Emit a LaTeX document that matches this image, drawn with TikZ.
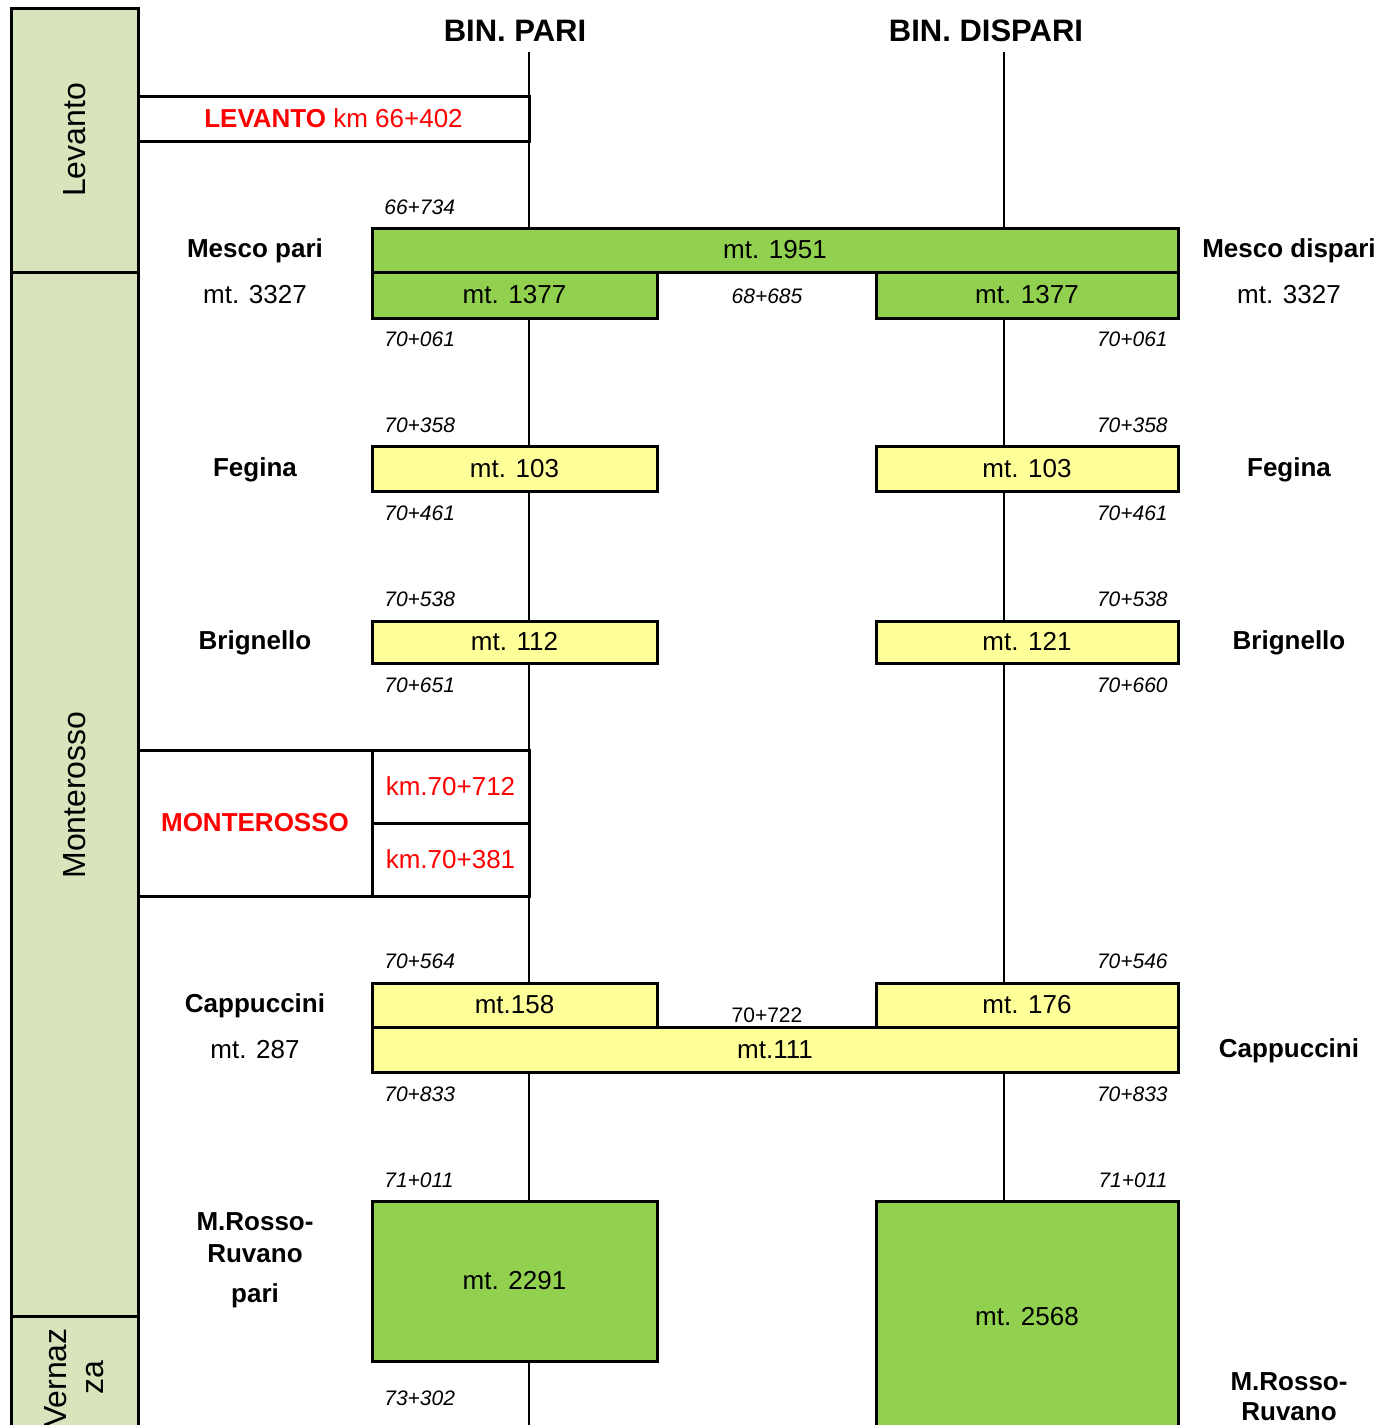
\documentclass[tikz,border=0pt]{standalone}
\usepackage{fontspec}
\setmainfont{Liberation Sans}
\definecolor{bandgreen}{HTML}{D8E4BC}
\definecolor{boxgreen}{HTML}{92D050}
\definecolor{boxyellow}{HTML}{FFFF99}
\begin{document}
\begin{tikzpicture}[x=1pt, y=-1pt, line width=2.7pt,
  band/.style = {draw, fill=bandgreen, line width=3pt, rotate=90, inner sep=0pt, align=center, font=\fontsize{32}{37}\selectfont},
  gbox/.style = {draw, fill=boxgreen, line width=3pt, inner sep=0pt, font=\fontsize{26}{30}\selectfont},
  ybox/.style = {draw, fill=boxyellow, line width=3pt, inner sep=0pt, font=\fontsize{26}{30}\selectfont},
  cell/.style = {draw, line width=3pt, inner sep=0pt, text=red, font=\fontsize{26}{30}\selectfont},
  stn/.style = {font=\bfseries\fontsize{26}{32}\selectfont, align=center},
  lenlbl/.style = {font=\fontsize{26}{30}\selectfont},
  pk/.style = {inner sep=0pt, font=\itshape\fontsize{21}{24}\selectfont},
  hdr/.style = {font=\bfseries\fontsize{31}{36}\selectfont}]
\useasboundingbox (0,0) rectangle (1395,1425);
\clip (0,0) rectangle (1395,1425);
\node[band, minimum width=264, minimum height=127] (lev) at (74.5,140) {Levanto};
\node[band, minimum width=1046, minimum height=127] (mon) at (74.5,795) {Monterosso};
\node[band, minimum width=124, minimum height=127] (ver) at (74.5,1378) {Vernaz\\za};
\node[hdr] (hp) at (515,31) {BIN. PARI};
\node[hdr] (hd) at (986,31) {BIN. DISPARI};
\coordinate (pT) at (529,52);
\coordinate (dT) at (1004,52);
\coordinate (pB) at (529,1425);
\node[cell, minimum width=391, minimum height=45] (levc) at (333.5,118.5) {\textbf{LEVANTO} km 66+402};
\node[gbox, minimum width=806, minimum height=44] (mesco) at (775,250) {mt. 1951};
\node[gbox, minimum width=285, minimum height=46] (mescoP) at (514.5,295) {mt. 1377};
\node[gbox, minimum width=302, minimum height=46] (mescoD) at (1027,295) {mt. 1377};
\node[ybox, minimum width=285, minimum height=45] (feginaP) at (514.5,468.5) {mt. 103};
\node[ybox, minimum width=302, minimum height=45] (feginaD) at (1027,468.5) {mt. 103};
\node[ybox, minimum width=285, minimum height=42] (brignP) at (514.5,642) {mt. 112};
\node[ybox, minimum width=302, minimum height=42] (brignD) at (1027,642) {mt. 121};
\node[cell, minimum width=234, minimum height=146] (monc) at (255,823) {\textbf{MONTEROSSO}};
\node[cell, minimum width=157, minimum height=73] (km1) at (450.5,786.5) {km.70+712};
\node[cell, minimum width=157, minimum height=73] (km2) at (450.5,859.5) {km.70+381};
\node[ybox, minimum width=285, minimum height=44] (cappP) at (514.5,1005) {mt.158};
\node[ybox, minimum width=302, minimum height=44] (cappD) at (1027,1005) {mt. 176};
\node[ybox, minimum width=806, minimum height=45] (cappL) at (775,1049.5) {mt.111};
\node[gbox, minimum width=285, minimum height=160] (rossoP) at (514.5,1281) {mt. 2291};
\node[gbox, minimum width=302, minimum height=232] (rossoD) at (1027,1317) {mt. 2568};
\draw (pT) -- (levc.north -| pT);
\draw (levc.south -| pT) -- (mesco.north -| pT);
\draw (mescoP.south -| pT) -- (feginaP.north -| pT);
\draw (feginaP.south -| pT) -- (brignP.north -| pT);
\draw (brignP.south -| pT) -- (km1.north -| pT);
\draw (km2.south -| pT) -- (cappP.north -| pT);
\draw (cappL.south -| pT) -- (rossoP.north -| pT);
\draw (rossoP.south -| pT) -- (pB);
\draw (dT) -- (mesco.north -| dT);
\draw (mescoD.south -| dT) -- (feginaD.north -| dT);
\draw (feginaD.south -| dT) -- (brignD.north -| dT);
\draw (brignD.south -| dT) -- (cappD.north -| dT);
\draw (cappL.south -| dT) -- (rossoD.north -| dT);
\node[stn] (s1) at (255,251) {Mesco pari};
\node[lenlbl] (l1) at (255,295) {mt. 3327};
\node[stn] (s2) at (1289,251) {Mesco dispari};
\node[lenlbl] (l2) at (1289,295) {mt. 3327};
\node[stn] (s3) at (255,470) {Fegina};
\node[stn] (s4) at (1289,470) {Fegina};
\node[stn] (s5) at (255,643) {Brignello};
\node[stn] (s6) at (1289,643) {Brignello};
\node[stn] (s7) at (255,1006) {Cappuccini};
\node[lenlbl] (l3) at (255,1050) {mt. 287};
\node[stn] (s8) at (1289,1051) {Cappuccini};
\node[stn] (s9) at (255,1260) {M.Rosso-\\Ruvano\\[8pt]pari};
\node[stn, font=\bfseries\fontsize{26}{30}\selectfont] (s10) at (1289,1397) {M.Rosso-\\Ruvano};
\node[pk, anchor=west] (k1) at (383,207) {66+734};
\node[pk] (k2) at (767,296) {68+685};
\node[pk, anchor=west] (k3) at (383,339) {70+061};
\node[pk, anchor=east] (k4) at (1169,339) {70+061};
\node[pk, anchor=west] (k5) at (383,425) {70+358};
\node[pk, anchor=east] (k6) at (1169,425) {70+358};
\node[pk, anchor=west] (k7) at (383,513) {70+461};
\node[pk, anchor=east] (k8) at (1169,513) {70+461};
\node[pk, anchor=west] (k9) at (383,599) {70+538};
\node[pk, anchor=east] (k10) at (1169,599) {70+538};
\node[pk, anchor=west] (k11) at (383,685) {70+651};
\node[pk, anchor=east] (k12) at (1169,685) {70+660};
\node[pk, anchor=west] (k13) at (383,961) {70+564};
\node[pk, anchor=east] (k14) at (1169,961) {70+546};
\node[font=\fontsize{21}{24}\selectfont] (k15) at (767,1015) {70+722};
\node[pk, anchor=west] (k16) at (383,1094) {70+833};
\node[pk, anchor=east] (k17) at (1169,1094) {70+833};
\node[pk, anchor=west] (k18) at (383,1180) {71+011};
\node[pk, anchor=east] (k19) at (1169,1180) {71+011};
\node[pk, anchor=west] (k20) at (383,1398) {73+302};
\end{tikzpicture}
\end{document}
